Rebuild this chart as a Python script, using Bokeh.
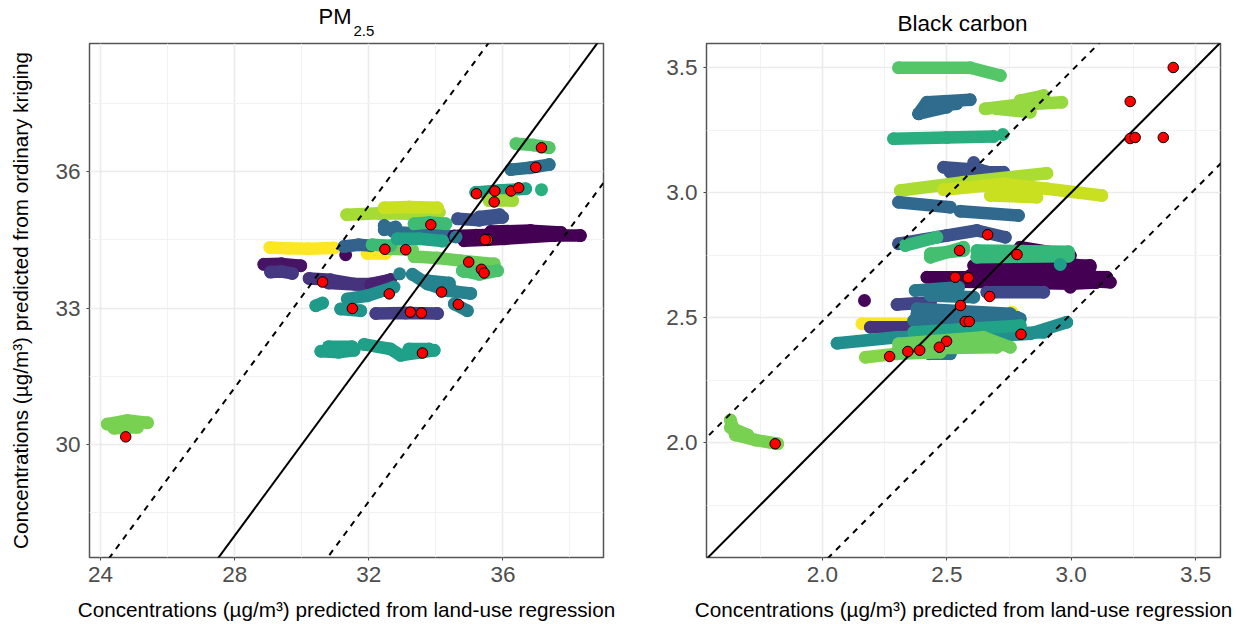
from bokeh.plotting import figure
from bokeh.layouts import row
from bokeh.models import FixedTicker, Range1d, NumeralTickFormatter, Title
from bokeh.embed import file_html
from bokeh.resources import INLINE

# ---------- PM2.5 panel data ----------
pm_a1 = ([29.05, 29.6, 30.2, 30.96], [34.33, 34.31, 34.30, 34.32])
pm_a2 = ([31.95, 32.5], [34.2, 34.2])
pm_b = ([28.87, 29.4, 29.97], [33.96, 33.97, 33.93])
pm_c = ([29.07, 29.4, 29.72], [33.79, 33.8, 33.76])
pm_d = ([30.22, 30.86, 31.56, 32.06, 32.65], [33.65, 33.62, 33.53, 33.53, 33.62])
pm_d2 = ([30.8, 32.0], [33.55, 33.5])
pm_e = ([32.06, 32.65], [33.51, 33.62])
pm_f = ([31.31], [34.17])
pm_g = ([31.26, 31.7, 32.06], [34.35, 34.39, 34.37])
pm_h = ([31.34, 32.3, 33.2, 34.1], [35.05, 35.08, 35.07, 35.1])
pm_i = ([32.46, 33.2, 34.05], [35.2, 35.22, 35.2])
pm_k = ([32.46, 32.75, 33.5, 34.35], [34.81, 34.67, 34.63, 34.59])
pm_k2 = ([32.46, 32.8], [34.72, 34.78])
pm_j = ([33.35, 33.8, 34.3], [34.85, 34.88, 34.85])
pm_l = ([32.85, 33.5, 34.2], [34.52, 34.52, 34.47])
pm_m = ([32.1, 32.65], [34.39, 34.37])
pm_n = ([32.65, 33.3], [34.3, 34.28])
pm_o = ([33.35, 34.05, 34.74, 35.74], [34.13, 34.1, 34.04, 33.97])
pm_p = ([34.79, 35.3, 35.84], [33.82, 33.74, 33.82])
pm_p2 = ([34.85, 35.6], [33.8, 33.8])
pm_q = ([32.92], [33.75])
pm_r = ([33.3, 33.75, 34.35, 35.04], [33.74, 33.53, 33.38, 33.32])
pm_r2 = ([33.75, 34.4], [33.6, 33.55])
pm_r3 = ([34.05, 34.45], [33.5, 33.42])
pm_s = ([34.55, 34.94], [33.09, 32.94])
pm_t = ([31.36, 31.96, 32.75], [33.2, 33.27, 33.46])
pm_u = ([31.16, 31.76], [32.98, 32.94])
pm_v = ([30.42, 30.62], [33.05, 33.11])
pm_w = ([32.21, 33.1, 34.05], [32.88, 32.89, 32.88])
pm_x1 = ([30.57, 31.1, 31.56], [32.05, 32.03, 32.07])
pm_x2 = ([30.8, 31.5], [32.15, 32.15])
pm_y1 = ([31.86, 32.65, 32.95, 33.95], [32.2, 32.1, 31.96, 32.07])
pm_y2 = ([33.2, 33.8], [32.1, 32.1])
pm_z = ([36.39, 36.9, 37.38], [36.61, 36.58, 36.52])
pm_aa = ([36.24, 36.8, 37.38], [36.04, 36.08, 36.15])
pm_ab = ([35.19, 35.9, 36.68], [35.54, 35.58, 35.62])
pm_ab2 = ([37.15], [35.6])
pm_ac = ([35.59, 36.29], [35.36, 35.36])
pm_ad = ([34.65, 35.3, 35.99], [34.96, 34.93, 34.99])
pm_ad2 = ([35.3, 35.9], [35.0, 35.05])
pm_main1 = ([34.84, 35.54, 36.04, 37.53, 38.31], [34.48, 34.5, 34.52, 34.59, 34.59])
pm_main2 = ([35.64, 36.83, 37.73], [34.68, 34.70, 34.66])
pm_main3 = ([34.54, 35.2, 37.53], [34.58, 34.6, 34.63])
pm_ae = ([34.6], [34.56])
pm_ll1 = ([24.2, 24.8, 25.4], [30.45, 30.53, 30.48])
pm_ll2 = ([24.4, 25.1], [30.36, 30.38])

pm_red_x = [37.15, 36.98, 35.21, 35.76, 36.24, 36.47, 35.74, 33.85, 35.54, 35.47, 32.48, 33.1,
            34.98, 35.36, 35.44, 30.62, 32.61, 34.17, 34.67, 31.51, 33.24, 33.57, 33.6, 24.75]
pm_red_y = [36.52, 36.09, 35.51, 35.57, 35.57, 35.64, 35.33, 34.83, 34.5, 34.5, 34.29, 34.28,
            34.01, 33.85, 33.77, 33.57, 33.31, 33.35, 33.08, 32.99, 32.91, 32.89, 32.01, 30.17]

pm_xticks = [24, 28, 32, 36]
pm_xminor = [26, 30, 34, 38]
pm_yticks = [30, 33, 36]
pm_yminor = [28.5, 31.5, 34.5, 37.5]
pm_solid = ([20, 42], [20, 42])
pm_up = ([20, 42], [23.25, 45.25])
pm_down = ([20, 42], [16.75, 38.75])

# ---------- Black carbon panel data ----------
bc_a = ([2.306, 2.594, 2.715], [3.499, 3.499, 3.468])
bc_b1 = ([2.387, 2.42, 2.594], [3.315, 3.361, 3.371])
bc_b2 = ([2.387, 2.5], [3.315, 3.341])
bc_b3 = ([2.42, 2.54], [3.341, 3.355])
bc_c1 = ([2.654, 2.78, 2.962], [3.335, 3.35, 3.361])
bc_c2 = ([2.795, 2.889], [3.368, 3.388])
bc_c3 = ([2.7, 2.835], [3.335, 3.321])
bc_d = ([2.286, 2.5, 2.688], [3.215, 3.22, 3.224])
bc_d2 = ([2.725], [3.232])
bc_e = ([2.487, 2.634, 2.715], [3.101, 3.09, 3.07])
bc_e2 = ([2.514, 2.728], [3.081, 3.081])
bc_e3 = ([2.608], [3.12])
bc_f = ([2.313, 2.567, 2.902], [3.008, 3.041, 3.077])
bc_g1 = ([2.487, 2.728, 2.902, 3.123], [3.011, 3.035, 3.015, 2.988])
bc_g2 = ([2.675, 2.862], [2.988, 2.981])
bc_h = ([2.306, 2.514], [2.961, 2.941])
bc_i = ([2.554, 2.788], [2.925, 2.908])
bc_j = ([2.306, 2.5, 2.621, 2.735], [2.795, 2.828, 2.848, 2.821])
bc_k = ([2.333, 2.46], [2.788, 2.821])
bc_n1 = ([2.42, 2.782, 3.157], [2.661, 2.661, 2.641])
bc_n2 = ([2.795, 2.996], [2.781, 2.748])
bc_n3 = ([2.608, 3.076], [2.708, 2.708])
bc_n4 = ([2.594, 3.143], [2.668, 2.661])
bc_n5 = ([2.835, 3.076], [2.741, 2.701])
bc_n6 = ([2.996], [2.621])
bc_n7 = ([2.45, 3.0, 3.1], [2.645, 2.635, 2.64])
bc_l = ([2.434, 2.567], [2.741, 2.781])
bc_l2 = ([2.434, 2.567], [2.755, 2.768])
bc_m1 = ([2.621, 2.989], [2.741, 2.745])
bc_m2 = ([2.621, 2.989], [2.768, 2.763])
bc_o = ([2.956], [2.712])
bc_p = ([2.169], [2.568])
bc_q = ([2.661, 2.889], [2.601, 2.601])
bc_r1 = ([2.373, 2.547], [2.608, 2.621])
bc_r2 = ([2.434, 2.608], [2.588, 2.581])
bc_s = ([2.3, 2.434], [2.552, 2.561])
bc_u1 = ([2.159, 2.353], [2.475, 2.475])
bc_u2 = ([2.762], [2.521])
bc_v = ([2.193, 2.353], [2.461, 2.461])
bc_t1 = ([2.38, 2.755], [2.535, 2.515])
bc_t2 = ([2.38, 2.782], [2.515, 2.501])
bc_t3 = ([2.367, 2.795], [2.488, 2.495])
bc_x1 = ([2.059, 2.3, 2.728, 2.835, 2.982], [2.397, 2.421, 2.428, 2.435, 2.481])
bc_x2 = ([2.728, 2.889], [2.435, 2.441])
bc_w = ([2.367, 2.795], [2.441, 2.468])
bc_z2 = ([2.43, 2.514], [2.355, 2.355])
bc_y1 = ([2.306, 2.648, 2.755], [2.395, 2.421, 2.381])
bc_y2 = ([2.306, 2.701], [2.375, 2.381])
bc_y3 = ([2.3, 2.474], [2.355, 2.361])
bc_z = ([2.173, 2.3], [2.341, 2.355])
bc_ll1 = ([1.63, 1.65, 1.73, 1.82], [2.09, 2.03, 2.01, 1.995])
bc_ll2 = ([1.63, 1.7], [2.06, 2.03])

bc_red_x = [3.41, 3.237, 3.237, 3.257, 3.37, 2.664, 2.551, 2.782, 2.534, 2.586, 2.672, 2.555,
            2.574, 2.59, 2.798, 2.499, 2.47, 2.391, 2.343, 2.27, 1.81]
bc_red_y = [3.5, 3.364, 3.216, 3.22, 3.22, 2.831, 2.768, 2.752, 2.661, 2.659, 2.584, 2.548,
            2.484, 2.484, 2.433, 2.405, 2.381, 2.369, 2.364, 2.344, 1.995]

bc_ticks = [2.0, 2.5, 3.0, 3.5]
bc_minor = [1.75, 2.25, 2.75, 3.25]
bc_solid = ([1, 4], [1, 4])
bc_up = ([1, 4], [1.485, 4.485])
bc_down = ([1, 4], [0.515, 3.515])

FONT = "Liberation Sans"
XLAB = "Concentrations (\u00b5g/m\u00b3) predicted from land-use regression"
YLAB = "Concentrations (\u00b5g/m\u00b3) predicted from ordinary kriging"

pm_bands = [
    ("#FDE725", pm_a1), ("#FDE725", pm_a2), ("#471365", pm_b), ("#453781", pm_c),
    ("#46337E", pm_d), ("#46337E", pm_d2), ("#482173", pm_e), ("#45085B", pm_f), ("#33638D", pm_g),
    ("#A5DB36", pm_h), ("#C8E020", pm_i), ("#2F6C8E", pm_k), ("#2F6C8E", pm_k2), ("#3FBC73", pm_j),
    ("#6CCD5A", pm_n), ("#3CBB75", pm_m), ("#6CCD5A", pm_o), ("#4AC16D", pm_p), ("#4AC16D", pm_p2),
    ("#26828E", pm_q), ("#26828E", pm_r), ("#26828E", pm_r2), ("#26828E", pm_r3), ("#277F8E", pm_s),
    ("#218F8D", pm_t), ("#1F968B", pm_u), ("#1E9C89", pm_v), ("#433E85", pm_w),
    ("#1FA088", pm_x1), ("#1FA088", pm_x2), ("#1FA088", pm_y1), ("#1FA088", pm_y2),
    ("#55C667", pm_z), ("#2D708E", pm_aa), ("#20A486", pm_ab), ("#2AB07F", pm_ab2),
    ("#A0DA39", pm_ac), ("#3B528B", pm_ad), ("#3B528B", pm_ad2),
    ("#440154", pm_main1), ("#440154", pm_main2), ("#440154", pm_main3),
    ("#2A788E", pm_ae), ("#20A387", pm_l), ("#79D151", pm_ll1), ("#79D151", pm_ll2),
]
bc_bands = [
    ("#55C667", bc_a), ("#2F6C8E", bc_b1), ("#2F6C8E", bc_b2), ("#2F6C8E", bc_b3),
    ("#95D840", bc_c1), ("#95D840", bc_c2), ("#95D840", bc_c3),
    ("#29AF7F", bc_d), ("#29AF7F", bc_d2), ("#3B528B", bc_e), ("#3B528B", bc_e2), ("#3B528B", bc_e3),
    ("#AADC32", bc_f), ("#C8E020", bc_g1), ("#C8E020", bc_g2), ("#31688E", bc_h), ("#31688E", bc_i),
    ("#3B528B", bc_j), ("#35B779", bc_k),
    ("#440154", bc_n1), ("#440154", bc_n2), ("#440154", bc_n3), ("#440154", bc_n4), ("#440154", bc_n5),
    ("#440154", bc_n6), ("#440154", bc_n7), ("#44BF70", bc_l), ("#44BF70", bc_l2), ("#35B779", bc_m1), ("#35B779", bc_m2),
    ("#1F9E89", bc_o), ("#45085B", bc_p), ("#3F4889", bc_q),
    ("#414487", bc_s), ("#2A788E", bc_r1), ("#2A788E", bc_r2), ("#FDE725", bc_u1), ("#FDE725", bc_u2),
    ("#46337E", bc_v), ("#2D708E", bc_t1), ("#2D708E", bc_t2), ("#2D708E", bc_t3),
    ("#218F8D", bc_x1), ("#218F8D", bc_x2), ("#20A387", bc_w),
    ("#2A788E", bc_z2), ("#86D549", bc_z), ("#6CCD5A", bc_y1), ("#6CCD5A", bc_y2), ("#6CCD5A", bc_y3),
    ("#79D151", bc_ll1), ("#79D151", bc_ll2),
]


def panel(width, left, right, xr, yr, xt, xm, yt, ym, bands, red, solid, up, down, ylab):
    p = figure(width=width, height=624, x_range=Range1d(*xr), y_range=Range1d(*yr),
               output_backend="svg", toolbar_location=None, min_border_left=left,
               min_border_right=right, min_border_top=43, min_border_bottom=67)
    p.outline_line_color = "#555555"
    p.outline_line_width = 1.5
    for ax, ticks, minor in ((p.xaxis[0], xt, xm), (p.yaxis[0], yt, ym)):
        ax.ticker = FixedTicker(ticks=ticks, minor_ticks=minor)
        ax.axis_line_color = None
        ax.major_tick_line_color = "#444444"
        ax.major_tick_in = 0
        ax.major_tick_out = 3
        ax.minor_tick_line_color = None
        ax.major_label_text_font = FONT
        ax.major_label_text_font_size = "22.5px"
        ax.major_label_text_color = "#4D4D4D"
        ax.axis_label_text_font = FONT
        ax.axis_label_text_font_style = "normal"
        ax.axis_label_text_font_size = "20.7px"
        ax.axis_label_text_color = "#000000"
    p.xaxis[0].axis_label = XLAB
    p.xaxis[0].axis_label_standoff = 13
    p.xaxis[0].major_label_standoff = 5
    if ylab:
        p.yaxis[0].axis_label = ylab
        p.yaxis[0].axis_label_standoff = 20
    p.yaxis[0].major_label_standoff = 5
    for g in (p.xgrid[0], p.ygrid[0]):
        g.grid_line_color = "#EBEBEB"
        g.grid_line_width = 1.6
        g.minor_grid_line_color = "#F2F2F2"
        g.minor_grid_line_width = 1

    for color, (xs, ys) in bands:
        if len(xs) > 1:
            p.line(xs, ys, line_color=color, line_width=12.5, line_cap="round", line_join="round")
        p.scatter(xs, ys, size=13, fill_color=color, line_color=None)

    p.line(solid[0], solid[1], line_color="black", line_width=2)
    p.line(up[0], up[1], line_color="black", line_width=2, line_dash="6 6")
    p.line(down[0], down[1], line_color="black", line_width=2, line_dash="6 6")
    p.scatter(red[0], red[1], size=10.5, fill_color="#FF0000", line_color="black", line_width=1)
    return p


p1 = panel(618, 89, 15, (23.67, 39.0), (27.52, 38.81), pm_xticks, pm_xminor, pm_yticks, pm_yminor,
           pm_bands, (pm_red_x, pm_red_y), pm_solid, pm_up, pm_down, YLAB)
p2 = panel(618, 88, 16, (1.534, 3.6), (1.54, 3.596), bc_ticks, bc_minor, bc_ticks, bc_minor,
           bc_bands, (bc_red_x, bc_red_y), bc_solid, bc_up, bc_down, None)
p1.xaxis[0].formatter = NumeralTickFormatter(format="0")
p1.yaxis[0].formatter = NumeralTickFormatter(format="0")
p2.xaxis[0].formatter = NumeralTickFormatter(format="0.0")
p2.yaxis[0].formatter = NumeralTickFormatter(format="0.0")


def title(text, off, size, standoff):
    return Title(text=text, align="left", offset=off, text_font=FONT, text_font_size=size,
                 text_font_style="normal", text_color="black", standoff=standoff)


p1.title = None
p1.add_layout(title("2.5", 264, "15px", 15), "above")
p1.add_layout(title("PM", 229, "22px", -25), "above")
p2.title = title("Black carbon", 191, "22.5px", 15)

open("out.html", "w").write(file_html(row(p1, p2), INLINE))
